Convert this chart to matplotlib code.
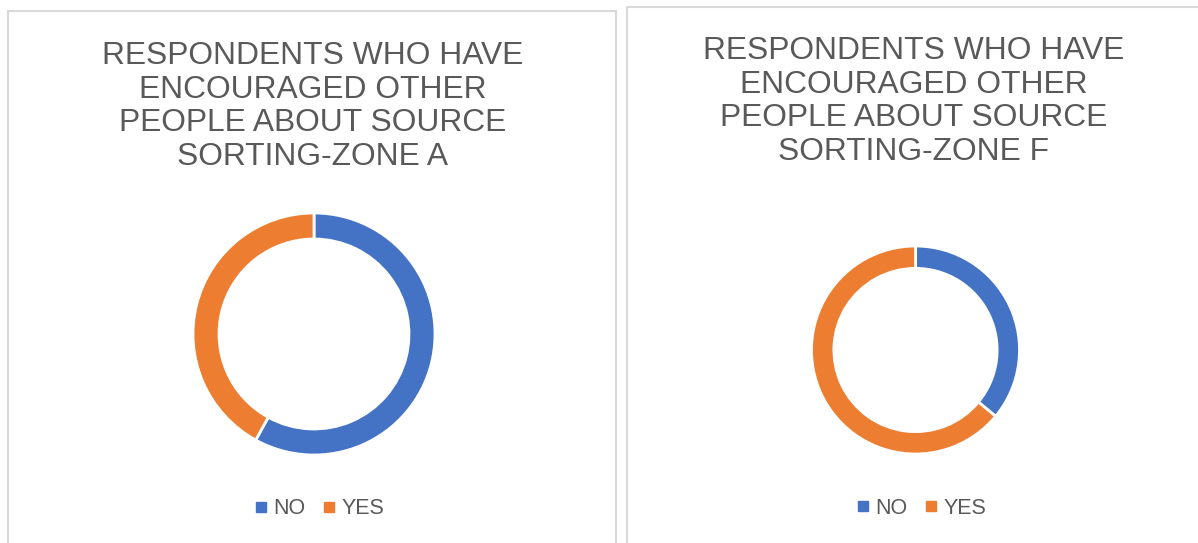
import matplotlib
matplotlib.use("Agg")
import matplotlib.pyplot as plt
from matplotlib.patches import Rectangle
from matplotlib.lines import Line2D

plt.rcParams['font.family'] = ['Liberation Sans', 'DejaVu Sans']

# survey answers, percent
labels = ["NO", "YES"]
zoneA = [58, 42]
zoneF = [36, 64]
titleA = "RESPONDENTS WHO HAVE\nENCOURAGED OTHER\nPEOPLE ABOUT SOURCE\nSORTING-ZONE A"
titleF = "RESPONDENTS WHO HAVE\nENCOURAGED OTHER\nPEOPLE ABOUT SOURCE\nSORTING-ZONE F"
colors = ["#4472C4", "#ED7D31"]
textGray = "#595959"

W, H = 1198, 543
fig = plt.figure(figsize=(W / 100, H / 100), dpi=100)


def px(x0, y0, w, h):
	# pixel box (top-left origin) -> figure fraction
	return [x0 / W, 1 - (y0 + h) / H, w / W, h / H]


# panel frames
for box in [(8, 11, 608, 560), (627, 7, 600, 560)]:
	fig.patches.append(Rectangle((box[0] / W, 1 - (box[1] + box[3]) / H), box[2] / W, box[3] / H,
		transform=fig.transFigure, fill=False, edgecolor="#d9d9d9", linewidth=1.5))


def donut(cx, cy, r, values, title, tx, ty, lx, ly):
	ax = fig.add_axes(px(cx - r, cy - r, 2 * r, 2 * r));
	ax.pie(values, colors=colors, startangle=90, counterclock=False, radius=1,
		wedgeprops=dict(width=0.215, edgecolor="white", linewidth=2));
	ax.set_xlim(-1, 1);
	ax.set_ylim(-1, 1);
	ax.set_aspect("equal");
	ax.axis("off");

	fig.text(tx / W, 1 - ty / H, title, ha="center", va="center", fontsize=22.9,
		color=textGray, linespacing=1.17);

	handles = [Line2D([], [], marker="s", linestyle="", markersize=6.5, color=c) for c in colors];
	fig.legend(handles, labels, loc="center", bbox_to_anchor=(lx / W, 1 - ly / H), ncol=2,
		frameon=False, fontsize=15.5, labelcolor=textGray, handletextpad=0.28,
		columnspacing=0.79, handlelength=0.6, borderpad=0, borderaxespad=0);


donut(314, 334, 121, zoneA, titleA, 312.5, 106.5, 319, 509)
donut(915.5, 350, 104, zoneF, titleF, 914, 101.5, 921, 508)

fig.savefig("out.png", dpi=100)
